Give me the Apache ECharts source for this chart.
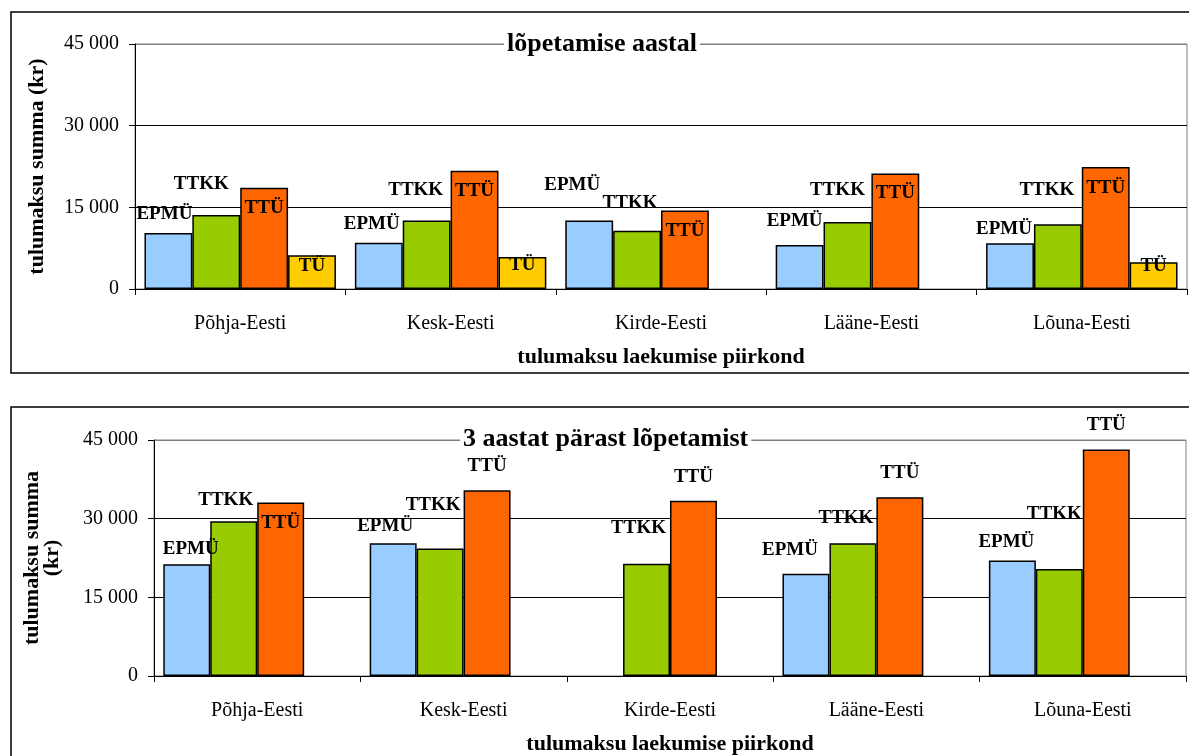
<!DOCTYPE html>
<html>
<head>
<meta charset="utf-8">
<script src="https://cdn.jsdelivr.net/npm/echarts@6/dist/echarts.min.js"></script>
<style>
html,body{margin:0;padding:0;background:#fff;}
#c{width:1189px;height:756px;}
</style>
</head>
<body>
<div id="c"></div>
<script>
// ---- data ----
const categories = ['Põhja-Eesti', 'Kesk-Eesti', 'Kirde-Eesti', 'Lääne-Eesti', 'Lõuna-Eesti'];
const seriesNames = ['EPMÜ', 'TTKK', 'TTÜ', 'TÜ'];
const yTicks = [0, 15000, 30000, 45000];

// top panel: "lõpetamise aastal"
const topEPMU = [10300, 8500, 12600, 8100, 8400];
const topTTKK = [13600, 12600, 10700, 12300, 11900];
const topTTU  = [18600, 21700, 14400, 21200, 22400];
const topTU   = [6200, 5900, null, null, 4900];

// bottom panel: "3 aastat pärast lõpetamist"
const botEPMU = [21300, 25300, null, 19500, 22000];
const botTTKK = [29500, 24300, 21400, 25300, 20400];
const botTTU  = [33100, 35400, 33400, 34100, 43200];
const botTU   = [null, null, null, null, null];

// ---- styling (label nudges: [dx, dy of label centre from bar top]) ----
const colors = {'EPMÜ': '#99CCFF', 'TTKK': '#99CC00', 'TTÜ': '#FF6600', 'TÜ': '#FFCC00'};
const topNudge = {
  'EPMÜ': [[-4,-19],[-7,-19],[-17,-35],[-5,-24],[-6,-14]],
  'TTKK': [[-15,-31],[-11,-30],[-7,-28],[-10,-32],[-11,-34]],
  'TTÜ':  [[0,20],[0,20],[0,20],[0,20],[0,21]],
  'TÜ':   [[0,11],[0,8],[0,0],[0,0],[0,4]]
};
const botNudge = {
  'EPMÜ': [[4,-15],[-8,-17],[0,0],[-16,-24],[-6,-19]],
  'TTKK': [[-8,-21],[-7,-43],[-8,-36],[-7,-25],[-5,-55]],
  'TTÜ':  [[0,21],[0,-24],[0,-24],[0,-24],[0,-24]],
  'TÜ':   [[0,0],[0,0],[0,0],[0,0],[0,0]]
};

const FONT = 'Liberation Serif';
const LH = 20;

function makeData(values, nudges) {
  return values.map((v, i) => ({
    value: v,
    label: {offset: [nudges[i][0], nudges[i][1] + LH / 2]}
  }));
}

function makeSeries(name, values, nudges, gridIdx, catGap) {
  return {
    type: 'bar',
    name: name,
    xAxisIndex: gridIdx,
    yAxisIndex: gridIdx,
    data: makeData(values, nudges),
    barGap: '0%',
    barCategoryGap: catGap,
    itemStyle: {color: colors[name], borderColor: '#000', borderWidth: 1.5},
    label: {
      show: true,
      position: 'top',
      distance: 0,
      formatter: name,
      fontFamily: FONT,
      fontWeight: 'bold',
      fontSize: 19,
      lineHeight: LH,
      color: '#000'
    },
    emphasis: {disabled: true},
    animation: false
  };
}

function fmt(v) {
  return String(v).replace(/\B(?=(\d{3})+(?!\d))/g, ' ');
}

function xAxisCfg(gridIdx) {
  return {
    type: 'category',
    gridIndex: gridIdx,
    data: categories,
    axisLine: {lineStyle: {color: '#000', width: 1}},
    axisTick: {show: true, length: 6, lineStyle: {color: '#000'}},
    axisLabel: {fontFamily: FONT, fontSize: 20, color: '#000', margin: 25},
    name: 'tulumaksu laekumise piirkond',
    nameLocation: 'middle',
    nameGap: 57,
    nameTextStyle: {fontFamily: FONT, fontWeight: 'bold', fontSize: 22, color: '#000'}
  };
}

function yAxisCfg(gridIdx, name, gap) {
  return {
    type: 'value',
    gridIndex: gridIdx,
    min: yTicks[0],
    max: yTicks[yTicks.length - 1],
    interval: yTicks[1] - yTicks[0],
    axisLine: {show: true, lineStyle: {color: '#000', width: 1}},
    axisTick: {show: true, length: 6, lineStyle: {color: '#000'}},
    axisLabel: {fontFamily: FONT, fontSize: 20, color: '#000', margin: 16, formatter: fmt},
    splitLine: {show: true, lineStyle: {color: ['#000', '#000', '#000', '#808080'], width: 1}},
    name: name,
    nameLocation: 'middle',
    nameGap: gap,
    nameRotate: 90,
    nameTextStyle: {fontFamily: FONT, fontWeight: 'bold', fontSize: 22, color: '#000', lineHeight: 20}
  };
}

const chart = echarts.init(document.getElementById('c'), null, {renderer: 'canvas'});
chart.setOption({
  backgroundColor: '#fff',
  animation: false,
  title: [
    {text: 'lõpetamise aastal', left: 504, top: 30, padding: [1, 3],
     backgroundColor: '#fff',
     textStyle: {fontFamily: FONT, fontWeight: 'bold', fontSize: 26, color: '#000'}},
    {text: '3 aastat pärast lõpetamist', left: 460, top: 425, padding: [1, 3],
     backgroundColor: '#fff',
     textStyle: {fontFamily: FONT, fontWeight: 'bold', fontSize: 26, color: '#000'}}
  ],
  graphic: [
    {type: 'rect', shape: {x: 11, y: 12, width: 1200, height: 361},
     style: {fill: null, stroke: '#000', lineWidth: 1.5}, z: 0, silent: true},
    {type: 'rect', shape: {x: 11, y: 407, width: 1200, height: 400},
     style: {fill: null, stroke: '#000', lineWidth: 1.5}, z: 0, silent: true}
  ],
  grid: [
    {left: 135, right: 2, top: 44, height: 245, show: true, borderColor: '#808080', borderWidth: 1, backgroundColor: 'transparent'},
    {left: 154, right: 3, top: 440, height: 238, show: true, borderColor: '#808080', borderWidth: 1, backgroundColor: 'transparent'}
  ],
  xAxis: [xAxisCfg(0), xAxisCfg(1)],
  yAxis: [
    yAxisCfg(0, 'tulumaksu summa (kr)', 88),
    yAxisCfg(1, 'tulumaksu summa\n(kr)', 92)
  ],
  series: [
    makeSeries('EPMÜ', topEPMU, topNudge['EPMÜ'], 0, '9%'),
    makeSeries('TTKK', topTTKK, topNudge['TTKK'], 0, '9%'),
    makeSeries('TTÜ', topTTU, topNudge['TTÜ'], 0, '9%'),
    makeSeries('TÜ', topTU, topNudge['TÜ'], 0, '9%'),
    makeSeries('EPMÜ', botEPMU, botNudge['EPMÜ'], 1, '9%'),
    makeSeries('TTKK', botTTKK, botNudge['TTKK'], 1, '9%'),
    makeSeries('TTÜ', botTTU, botNudge['TTÜ'], 1, '9%'),
    makeSeries('TÜ', botTU, botNudge['TÜ'], 1, '9%')
  ]
});
</script>
</body>
</html>
